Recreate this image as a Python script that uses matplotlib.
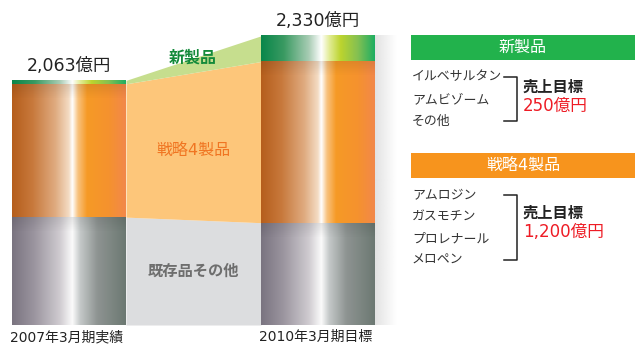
import numpy as np
import matplotlib.pyplot as plt
from matplotlib.colors import LinearSegmentedColormap

plt.rcParams['font.family'] = ['DejaVu Sans', 'Noto Sans CJK JP']

# data (億円, heights)
periods = ['2007年3月期実績', '2010年3月期目標']
total_labels = ['2,063億円', '2,330億円']
existing = [870, 825]
strategic = [1075, 1300]
new_products = [28, 207]

new_list = ['イルベサルタン', 'アムビゾーム', 'その他']
new_target = '250億円'
strat_list = ['アムロジン', 'ガスモチン', 'プロレナール', 'メロペン']
strat_target = '1,200億円'

# cylinder-like shading for each layer
cm_gray = LinearSegmentedColormap.from_list('g', [
    (0, '#7a7480'), (0.2, '#9c96a0'), (0.42, '#cfcbd0'), (0.53, '#fbfbfb'),
    (0.6, '#c4c8c8'), (0.75, '#8e9492'), (1, '#6c7872')])
cm_orange = LinearSegmentedColormap.from_list('o', [
    (0, '#b55e1c'), (0.18, '#c8793c'), (0.38, '#dfab80'), (0.5, '#f4dcc4'),
    (0.53, '#ffffff'), (0.58, '#f8c27e'), (0.66, '#f69a26'), (0.85, '#f5922e'),
    (1, '#f2884a')])
cm_green = LinearSegmentedColormap.from_list('n', [
    (0, '#08864a'), (0.2, '#3a9a62'), (0.42, '#a8ccb4'), (0.53, '#ffffff'),
    (0.6, '#e2ec96'), (0.7, '#bcd42e'), (0.85, '#84c052'), (1, '#1eae62')])

fig = plt.figure(figsize=(6.35, 3.44), dpi=100)
ax = fig.add_axes([0, 0, 1, 1])
px = 0.124  # pixels per unit
ax.set_xlim(0, 635)
ax.set_ylim(-19 / px, 325 / px)
ax.axis('off')

centers = [69, 318]
width = 114
grad = np.linspace(0, 1, 256).reshape(1, -1)

layers = [existing, strategic, new_products]
cmaps = [cm_gray, cm_orange, cm_green]
link_colors = ['#dcdddf', '#fdc67a', '#c6de8e']

bottoms = [0, 0]
for vals, cmap, lc in zip(layers, cmaps, link_colors):
    tops = [b + v for b, v in zip(bottoms, vals)]
    for i in range(2):
        x0 = centers[i] - width / 2
        ax.imshow(grad, extent=[x0, x0 + width, bottoms[i], tops[i]],
                  aspect='auto', cmap=cmap, zorder=3)
        # soft shade below the layer above
        if vals is not new_products:
            sh = np.zeros((64, 1, 4))
            sh[:, 0, 3] = np.linspace(0.09, 0, 64)
            ax.imshow(sh, extent=[x0, x0 + width, tops[i] - 120, tops[i]],
                      aspect='auto', zorder=4)
    xa = centers[0] + width / 2
    xb = centers[1] - width / 2
    ax.fill_between([xa, xb], bottoms, tops, color=lc, lw=0, zorder=2)
    bottoms = tops

# shadow to the right of the second bar
sh = np.zeros((1, 64, 4))
sh[0, :, :3] = 0.6
sh[0, :, 3] = np.linspace(0.28, 0, 64)
ax.imshow(sh, extent=[centers[1] + width / 2, centers[1] + width / 2 + 22,
                      0, bottoms[1]], aspect='auto', zorder=1)

ax.text(centers[0], bottoms[0] + 40, total_labels[0], ha='center', va='bottom',
        fontsize=12.5, color='#222222')
ax.text(centers[1], bottoms[1] + 50, total_labels[1], ha='center', va='bottom',
        fontsize=12.5, color='#222222')

# annotation layer in pixel coordinates
ov = fig.add_axes([0, 0, 1, 1])
ov.set_xlim(0, 635)
ov.set_ylim(344, 0)
ov.axis('off')
ov.patch.set_alpha(0)

for c, p in zip(centers, periods):
    ov.text(c - 2, 337, p, ha='center', va='center', fontsize=10, color='#222222')

ov.text(193, 58, '新製品', ha='center', va='center', fontsize=11.5,
        fontweight='bold', color='#138a3a')
ov.text(193, 150, '戦略4製品', ha='center', va='center', fontsize=11.5,
        color='#f07522')
ov.text(193, 271, '既存品その他', ha='center', va='center', fontsize=11,
        fontweight='bold', color='#6e6e6e')

# right panel
def panel(y_head, title, color, items, item_y, target, tgt_y):
    ov.add_patch(plt.Rectangle((411, y_head), 224, 25, color=color, lw=0))
    ov.text(523, y_head + 12.5, title, ha='center', va='center', fontsize=11.5,
            color='white')
    for t, y in zip(items, item_y):
        ov.text(412, y, t, ha='left', va='center', fontsize=9.3, color='#333333')
    yt, yb = item_y[0], item_y[-1]
    ov.plot([504, 517, 517, 504], [yt, yt, yb, yb], color='#222222', lw=1.1)
    ov.text(523, tgt_y, '売上目標', ha='left', va='center', fontsize=11,
            fontweight='bold', color='#222222')
    ov.text(523, tgt_y + 19, target, ha='left', va='center', fontsize=12,
            color='#ee1c25')

panel(35, '新製品', '#22b24c', new_list, [77, 100, 121], new_target, 87)
panel(153, '戦略4製品', '#f7941d', strat_list, [195, 217, 239, 260],
      strat_target, 213)

fig.savefig('out.png', dpi=100)
